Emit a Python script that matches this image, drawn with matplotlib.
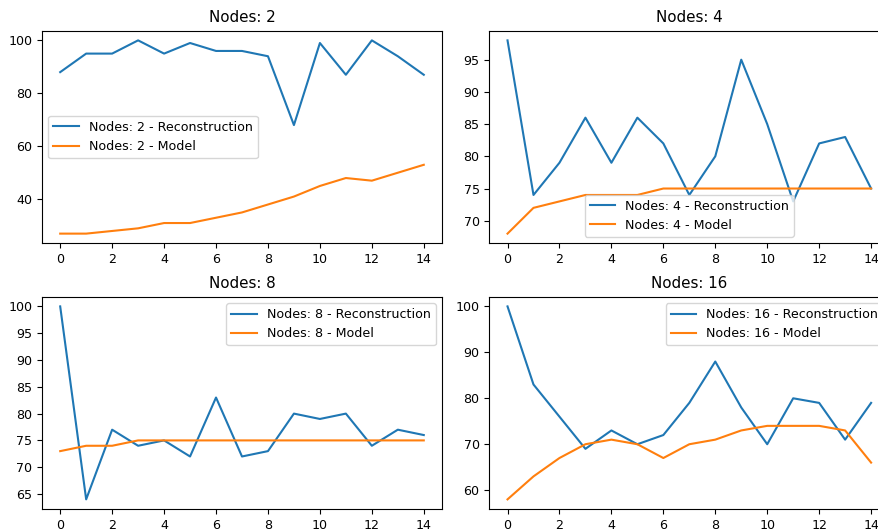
import numpy as np
import matplotlib.pyplot as plt

steps = np.arange(15)
node_counts = [2, 4, 8, 16]

recon_2 = [88, 95, 95, 100, 95, 99, 96, 96, 94, 68, 99, 87, 100, 94, 87]
model_2 = [27, 27, 28, 29, 31, 31, 33, 35, 38, 41, 45, 48, 47, 50, 53]

recon_4 = [98, 74, 79, 86, 79, 86, 82, 74, 80, 95, 85, 73, 82, 83, 75]
model_4 = [68, 72, 73, 74, 74, 74, 75, 75, 75, 75, 75, 75, 75, 75, 75]

recon_8 = [100, 64, 77, 74, 75, 72, 83, 72, 73, 80, 79, 80, 74, 77, 76]
model_8 = [73, 74, 74, 75, 75, 75, 75, 75, 75, 75, 75, 75, 75, 75, 75]

recon_16 = [100, 83, 76, 69, 73, 70, 72, 79, 88, 78, 70, 80, 79, 71, 79]
model_16 = [58, 63, 67, 70, 71, 70, 67, 70, 71, 73, 74, 74, 74, 73, 66]

recon = [recon_2, recon_4, recon_8, recon_16]
model = [model_2, model_4, model_8, model_16]
legend_locs = ['center left', 'lower center', 'upper right', 'upper right']

plt.rcParams['font.size'] = 9.1

fig, axes = plt.subplots(2, 2, figsize=(8.79, 5.32), dpi=100)

# axes rects in figure fractions, right column runs past the edge
positions = [
    [0.0478, 0.5427, 0.455, 0.3996],
    [0.5567, 0.5427, 0.455, 0.3996],
    [0.0478, 0.0432, 0.455, 0.399],
    [0.5567, 0.0432, 0.455, 0.399],
]

for i, ax in enumerate(axes.flat):
    n = node_counts[i]
    ax.set_position(positions[i])
    ax.plot(steps, recon[i], label=f'Nodes: {n} - Reconstruction')
    ax.plot(steps, model[i], label=f'Nodes: {n} - Model')
    ax.set_title(f'Nodes: {n}')
    ax.set_xticks(np.arange(0, 15, 2))
    ax.legend(loc=legend_locs[i])

axes[1, 0].set_yticks(np.arange(65, 101, 5))

fig.savefig('out.png', dpi=100)
